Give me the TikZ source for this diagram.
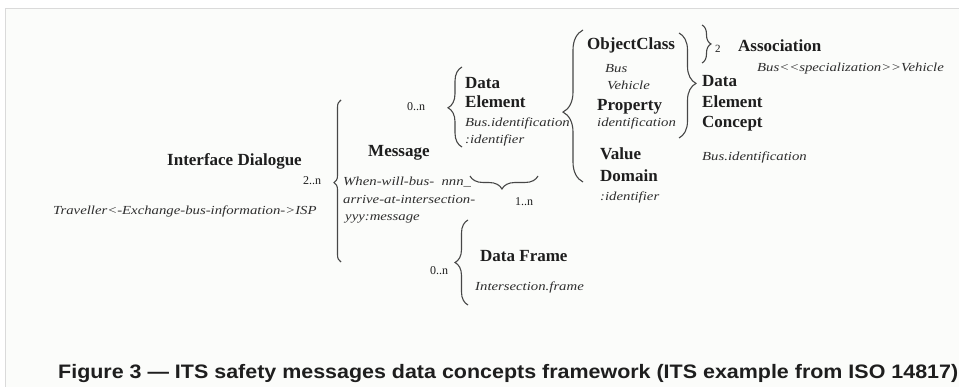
\documentclass[tikz,border=0pt]{standalone}
\usepackage{fontspec}
\setmainfont{Liberation Serif}
\newfontfamily\itsm{Liberation Serif}[FakeStretch=1.2]
\newfontfamily\capfont{Liberation Sans}[FakeStretch=1.1]
\usetikzlibrary{decorations.pathreplacing}
\definecolor{txt}{HTML}{1E1E1E}
\definecolor{itc}{HTML}{2E2E2E}
\definecolor{brc}{HTML}{474747}
\definecolor{bgc}{HTML}{FBFCFA}
\definecolor{framec}{HTML}{DADADA}
\tikzset{
  lbl/.style={font=\fontsize{17}{20}\selectfont\bfseries, text=txt, inner sep=0pt, anchor=base west},
  itl/.style={font=\itsm\itshape\fontsize{12.3}{14}\selectfont, text=itc, inner sep=0pt, anchor=base west},
  card/.style={font=\fontsize{12}{14}\selectfont, text=txt, inner sep=0pt, anchor=base west},
  curly/.style={decorate, decoration={brace, amplitude=#1}, draw=brc, line width=1.1pt},
  capt/.style={font=\capfont\bfseries\fontsize{19.5}{24}\selectfont, text=txt, inner sep=0pt, anchor=base west}
}
\begin{document}
\begin{tikzpicture}[x=1pt,y=-1pt]
\useasboundingbox (0,0) rectangle (959,387);
\fill[white] (0,0) rectangle (959,387);
\fill[bgc] (5,8) rectangle (959,387);
\draw[framec, line width=0.8pt] (5,387) -- (5,8) -- (959,8);

% Interface dialogue
\node[lbl] (idlg) at (167,166) {Interface Dialogue};
\node[itl] (trav) at (53,215) {Traveller<-Exchange-bus-information->ISP};
\node[card] (n2) at (303,185) {2..n};

% Message brace
\coordinate (mb1) at (341,262);
\coordinate (mb2) at (341,100);
\draw[curly=7pt, decoration={aspect=0.49}] (mb1) -- (mb2);

\node[lbl] (msg) at (368,157) {Message};
\node[itl] (m1) at (343,186) {When-will-bus-\ \ nnn\_};
\node[itl] (m2) at (343,204) {arrive-at-intersection-};
\node[itl] (m3) at (345,221) {yyy:message};

% Underbrace 1..n
\coordinate (ub1) at (538,176);
\coordinate (ub2) at (470,176);
\draw[curly=13pt, decoration={aspect=0.53}] (ub1) -- (ub2);
\node[card] (n1) at (515,206) {1..n};

% Data Element
\node[card] (n0a) at (407,111) {0..n};
\coordinate (deb1) at (462,147);
\coordinate (deb2) at (462,67);
\draw[curly=14pt, decoration={aspect=0.49}] (deb1) -- (deb2);
\node[lbl] (de1) at (465,89) {Data};
\node[lbl] (de2) at (465,108) {Element};
\node[itl] (de3) at (465,127) {Bus.identification};
\node[itl] (de4) at (465,144) {:identifier};

% Big brace
\coordinate (bb1) at (583,182);
\coordinate (bb2) at (583,30);
\draw[curly=20pt, decoration={aspect=0.46}] (bb1) -- (bb2);
\node[lbl] (oc) at (587,50) {ObjectClass};
\node[itl] (bus) at (605,73) {Bus};
\node[itl] (veh) at (607,90) {Vehicle};
\node[lbl] (prop) at (597,111) {Property};
\node[itl] (ident) at (597,127) {identification};
\node[lbl] (val) at (600,160) {Value};
\node[lbl] (dom) at (600,182) {Domain};
\node[itl] (vdid) at (600,201) {:identifier};

% right brace -> Data Element Concept
\coordinate (rb1) at (679,33);
\coordinate (rb2) at (679,138);
\draw[curly=17pt, decoration={aspect=0.48}] (rb1) -- (rb2);
\node[lbl] (dec1) at (702,87) {Data};
\node[lbl] (dec2) at (702,108) {Element};
\node[lbl] (dec3) at (702,128) {Concept};
\node[itl] (decid) at (702,161) {Bus.identification};

% Association
\coordinate (sb1) at (702,25);
\coordinate (sb2) at (702,63);
\draw[curly=9pt, decoration={aspect=0.5}] (sb1) -- (sb2);
\node[card, font=\fontsize{11}{13}\selectfont] (two) at (715,53) {2};
\node[lbl] (assoc) at (738,52) {Association};
\node[itl] (spec) at (757,72) {Bus<\kern0pt<specialization>\kern0pt>Vehicle};

% Data Frame
\node[card] (n0b) at (430,275) {0..n};
\coordinate (dfb1) at (468,305);
\coordinate (dfb2) at (468,220);
\draw[curly=13pt, decoration={aspect=0.5}] (dfb1) -- (dfb2);
\node[lbl] (df) at (480,262) {Data Frame};
\node[itl] (dfid) at (475,291) {Intersection.frame};

% Caption
\node[capt] (cap) at (58,378) {Figure 3 — ITS safety messages data concepts framework (ITS example from ISO 14817)};
\end{tikzpicture}
\end{document}
